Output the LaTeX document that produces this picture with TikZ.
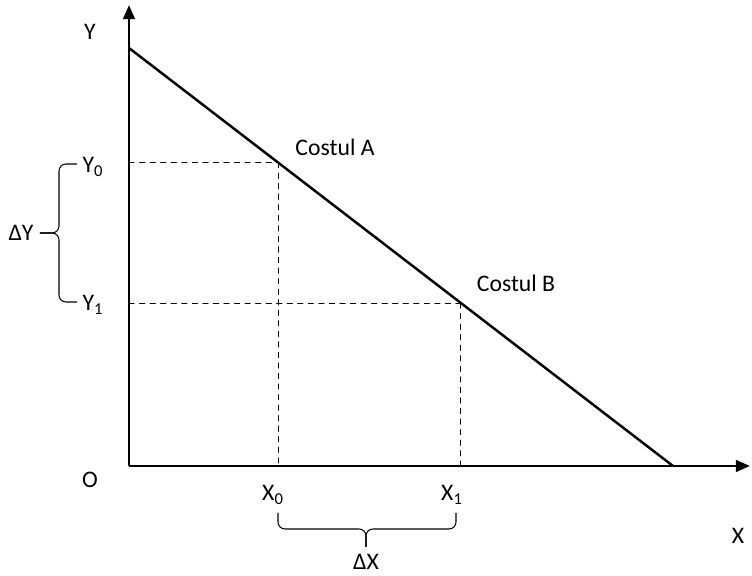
\documentclass[tikz,border=0pt]{standalone}
\usepackage{fontspec}
\setmainfont{Carlito}
\usepackage{tikz,tkz-euclide}
\usetikzlibrary{arrows.meta,calc}

\begin{document}
\begin{tikzpicture}[>={Triangle[length=8pt,width=6.5pt]}, font=\fontsize{13.5}{16}\selectfont, line join=round]
	\useasboundingbox (-2.58,-2.2) rectangle (12.46,9.32);
	\tkzDefPoints{0/0/O, 0/9.22/Yt, 12.42/0/Xt, 0/8.36/P, 10.88/0/Q}
	\coordinate (A) at ($(P)!0.274!(Q)$);
	\coordinate (B) at ($(P)!0.61!(Q)$);
	\coordinate (A0) at (O |- A);
	\coordinate (B0) at (O |- B);
	\coordinate (A1) at (A |- O);
	\coordinate (B1) at (B |- O);
	\draw[line width=1.7pt,->] (O) -- (Yt);
	\draw[line width=1.7pt,->] (O) -- (Xt);
	\tkzDrawSegments[line width=1.4pt](P,Q)
	\tkzDrawSegments[dashed,line width=0.5pt](A0,A A,A1 B0,B B,B1)
	% braces
	\tkzDefPoints{-1.04/6.04/Ua, -1.04/3.28/Ub, -1.78/4.66/Ut, 2.98/-0.94/Va, 6.54/-0.94/Vb, 4.74/-1.62/Vt}
	\draw[line width=0.6pt,rounded corners=4pt] (Ua) -- (-1.40,6.04) -- (-1.40,4.66) -- (Ut);
	\draw[line width=0.6pt,rounded corners=4pt] (Ub) -- (-1.40,3.28) -- (-1.40,4.66) -- (Ut);
	\draw[line width=0.6pt,rounded corners=4pt] (Va) -- (2.98,-1.26) -- (4.74,-1.26) -- (Vt);
	\draw[line width=0.6pt,rounded corners=4pt] (Vb) -- (6.54,-1.26) -- (4.74,-1.26) -- (Vt);
	% labels
	\node (ly) at (-0.78,8.68) {Y};
	\node (lo) at (-0.78,-0.28) {O};
	\node (lx) at (12.18,-1.4) {X};
	\node (lx0) at (2.88,-0.58) {X\textsubscript{0}};
	\node (lx1) at (6.46,-0.58) {X\textsubscript{1}};
	\node (ldx) at (4.74,-1.92) {ΔX};
	\node (ly0) at (-0.72,5.98) {Y\textsubscript{0}};
	\node (ly1) at (-0.72,3.22) {Y\textsubscript{1}};
	\node (ldy) at (-2.16,4.66) {ΔY};
	\node (ca) at (4.12,6.38) {Costul A};
	\node (cb) at (7.74,3.66) {Costul B};
\end{tikzpicture}
\end{document}
